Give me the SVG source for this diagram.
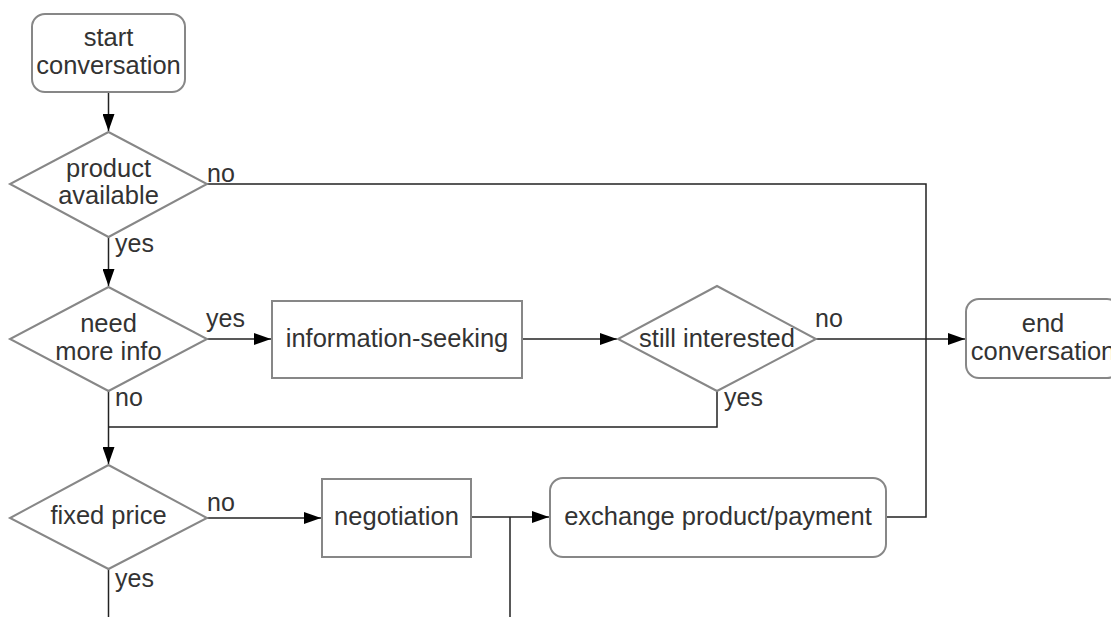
<svg xmlns="http://www.w3.org/2000/svg" width="1111" height="617" viewBox="0 0 1111 617">
<style>
.shape{fill:#fff;stroke:#878787;stroke-width:2}
.t{font-family:"Liberation Sans",Arial,sans-serif;font-size:25.5px;fill:#333;text-anchor:middle}
.lbl{font-family:"Liberation Sans",Arial,sans-serif;font-size:25px;fill:#333}
.c{fill:none;stroke:#222;stroke-width:1.5}
</style>
<defs>
<marker id="arr" markerWidth="18" markerHeight="12" refX="17" refY="6" orient="auto" markerUnits="userSpaceOnUse">
<path d="M0,0 L17,6 L0,12 Z" fill="#000"/>
</marker>
</defs>
<rect width="1111" height="617" fill="#fff"/>
<g id="connectors">
<path class="c" d="M108.5,92 V131" marker-end="url(#arr)"/>
<path class="c" d="M207,184 H926 V517 H886"/>
<path class="c" d="M108.5,237 V286" marker-end="url(#arr)"/>
<path class="c" d="M207,339 H271" marker-end="url(#arr)"/>
<path class="c" d="M522,339 H617" marker-end="url(#arr)"/>
<path class="c" d="M816,339 H965" marker-end="url(#arr)"/>
<path class="c" d="M717,391 V427 H108.5"/>
<path class="c" d="M108.5,391 V464" marker-end="url(#arr)"/>
<path class="c" d="M207,518 H321" marker-end="url(#arr)"/>
<path class="c" d="M471,517 H549" marker-end="url(#arr)"/>
<path class="c" d="M510,517 V617"/>
<path class="c" d="M108.5,569 V617"/>
<text class="lbl" x="207" y="182">no</text>
<text class="lbl" x="115" y="252">yes</text>
<text class="lbl" x="206" y="327">yes</text>
<text class="lbl" x="115" y="406">no</text>
<text class="lbl" x="815" y="327">no</text>
<text class="lbl" x="724" y="406">yes</text>
<text class="lbl" x="207" y="511">no</text>
<text class="lbl" x="115" y="587">yes</text>
</g>
<g id="start">
<rect class="shape" x="32" y="14" width="153" height="78" rx="13"/>
<text class="t" x="108.5" y="46">start</text>
<text class="t" x="108.5" y="74">conversation</text>
</g>
<g id="product-available">
<polygon class="shape" points="108.5,132 207,184 108.5,237 10,184"/>
<text class="t" x="108.5" y="177">product</text>
<text class="t" x="108.5" y="204">available</text>
</g>
<g id="need-more-info">
<polygon class="shape" points="108.5,287 207,339 108.5,391 10,339"/>
<text class="t" x="108.5" y="332">need</text>
<text class="t" x="108.5" y="360">more info</text>
</g>
<g id="information-seeking">
<rect class="shape" x="272" y="301" width="250" height="77"/>
<text class="t" x="397" y="347">information-seeking</text>
</g>
<g id="still-interested">
<polygon class="shape" points="717,286 816,339 717,391 618,339"/>
<text class="t" x="717" y="347">still interested</text>
</g>
<g id="end">
<rect class="shape" x="966" y="299" width="154" height="79" rx="13"/>
<text class="t" x="1043" y="332">end</text>
<text class="t" x="1043" y="360">conversation</text>
</g>
<g id="fixed-price">
<polygon class="shape" points="108.5,465 207,518 108.5,569 10,518"/>
<text class="t" x="108.5" y="524">fixed price</text>
</g>
<g id="negotiation">
<rect class="shape" x="322" y="479" width="149" height="78"/>
<text class="t" x="396.5" y="525">negotiation</text>
</g>
<g id="exchange">
<rect class="shape" x="550" y="478" width="336" height="79" rx="13"/>
<text class="t" x="718" y="525">exchange product/payment</text>
</g>
</svg>
